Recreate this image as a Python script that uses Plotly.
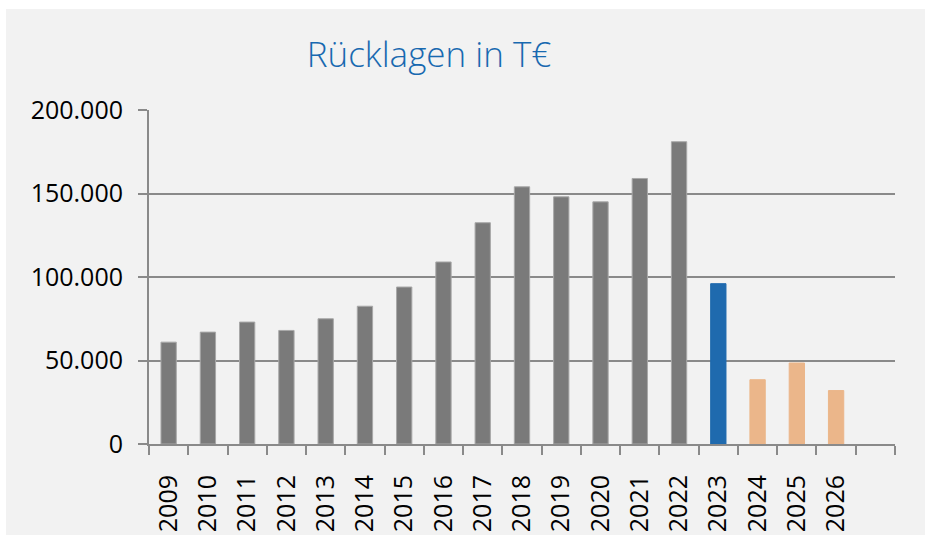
import plotly.graph_objects as go

years = [2009, 2010, 2011, 2012, 2013, 2014, 2015, 2016, 2017,
         2018, 2019, 2020, 2021, 2022, 2023, 2024, 2025, 2026]
ruecklagen = [61000, 67000, 73000, 68000, 75000, 82500, 94000, 109000, 132500,
              154000, 148000, 145000, 159000, 181000, 96000, 38500, 48500, 32000]
current_year = 2023
title_text = "Rücklagen in T€"
y_ticks = [0, 50000, 100000, 150000, 200000]

GRAY = "#7a7a7a"
BLUE = "#1f6aae"
ORANGE = "#ebb68a"
colors = [GRAY if y < current_year else (BLUE if y == current_year else ORANGE) for y in years]
line_colors = ["#a8a8a8" if y < current_year else c for y, c in zip(years, colors)]

W, H = 925, 535
L, R, T, B = 149, 30, 110, 91
pw, ph = W - L - R, H - T - B

fig = go.Figure()
fig.add_trace(go.Bar(
    x=years, y=ruecklagen, width=0.39,
    marker=dict(color=colors, line=dict(color=line_colors, width=1)),
    hoverinfo="x+y",
))

fig.update_layout(
    width=W, height=H,
    autosize=False,
    margin=dict(l=L, r=R, t=T, b=B, pad=0, autoexpand=False),
    paper_bgcolor="#f2f2f2",
    plot_bgcolor="#f2f2f2",
    separators=",.",
    showlegend=False,
    title=dict(text=title_text, x=429 / W, xref="container", xanchor="center",
               y=1 - 55 / H, yref="container", yanchor="middle",
               font=dict(family="Open Sans", size=35, color="#1869b0", weight=300)),
    font=dict(family="Open Sans", size=25, color="#000000"),
    shapes=[
        dict(type="rect", xref="paper", yref="paper", layer="below",
             x0=-L / pw - 0.1, x1=(W - L) / pw + 0.1,
             y0=(H - B - 9) / ph, y1=(H - B) / ph + 0.1,
             fillcolor="white", line=dict(width=0)),
        dict(type="rect", xref="paper", yref="paper", layer="below",
             x0=-L / pw - 0.1, x1=(6 - L) / pw,
             y0=-0.6, y1=(H - B) / ph + 0.1,
             fillcolor="white", line=dict(width=0)),
    ],
)

fig.update_xaxes(
    range=[2008.5, 2027.5], automargin=False,
    tickmode="array", tickvals=years, ticktext=[str(y) for y in years],
    tickangle=-90, ticks="", ticklabelstandoff=19,
    showgrid=False, zeroline=False,
    showline=True, linecolor="#8a8a8a", linewidth=2,
    minor=dict(ticks="outside", tick0=2008.5, dtick=1, ticklen=9,
               tickcolor="#8a8a8a", tickwidth=2, showgrid=False),
    fixedrange=True,
)
fig.update_yaxes(
    range=[0, 200000], tickvals=y_ticks, tickformat=",d", automargin=False,
    ticks="outside", ticklen=9, tickcolor="#8a8a8a", tickwidth=2,
    showgrid=True, gridcolor="#8a8a8a", gridwidth=2,
    zeroline=False, showline=True, linecolor="#8a8a8a", linewidth=2,
    ticklabelstandoff=10,
    fixedrange=True,
)

fig.write_html(
    "out.html",
    config={"displayModeBar": False},
    post_script="document.body.style.margin='0';document.body.style.overflow='hidden';",
)
